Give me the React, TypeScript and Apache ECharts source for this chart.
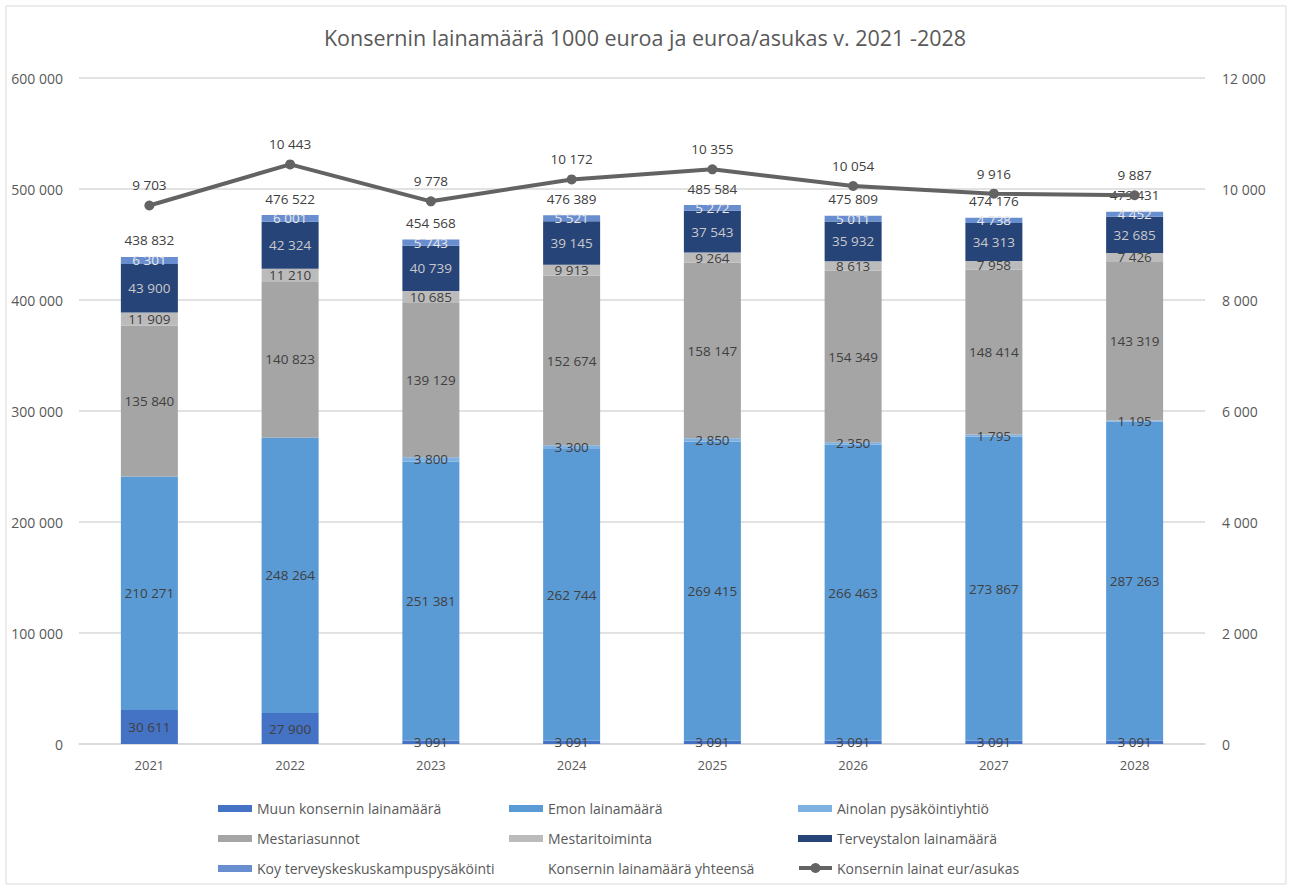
import React, { useEffect, useRef } from "react";
import * as echarts from "echarts";

const years = ["2021", "2022", "2023", "2024", "2025", "2026", "2027", "2028"];
const muunKonserni = [30611, 27900, 3091, 3091, 3091, 3091, 3091, 3091];
const emon = [210271, 248264, 251381, 262744, 269415, 266463, 273867, 287263];
const ainolan = [0, 0, 3800, 3300, 2850, 2350, 1795, 1195];
const mestariasunnot = [135840, 140823, 139129, 152674, 158147, 154349, 148414, 143319];
const mestaritoiminta = [11909, 11210, 10685, 9913, 9264, 8613, 7958, 7426];
const terveystalo = [43900, 42324, 40739, 39145, 37543, 35932, 34313, 32685];
const koy = [6301, 6001, 5743, 5521, 5272, 5011, 4738, 4452];
const yhteensa = [438832, 476522, 454568, 476389, 485584, 475809, 474176, 479431];
const eurAsukas = [9703, 10443, 9778, 10172, 10355, 10054, 9916, 9887];

const leftTicks = { min: 0, max: 600000, interval: 100000 };
const rightTicks = { min: 0, max: 12000, interval: 2000 };

const FONT = "'Open Sans', 'Noto Sans', sans-serif";
const TXT = "#595959";

const fmt = (v: number) =>
  Math.round(v).toString().replace(/\B(?=(\d{3})+(?!\d))/g, " ");

export default function App() {
  const ref = useRef<HTMLDivElement>(null);
  useEffect(() => {
    if (!ref.current) return;
    const chart = echarts.init(ref.current, null, { renderer: "svg" });

    const barSeries = (
      name: string,
      data: number[],
      color: string,
      labelColor: string
    ) => ({
      name,
      type: "bar",
      stack: "total",
      data,
      barWidth: 57,
      itemStyle: { color },
      label: {
        show: true,
        position: "inside",
        color: labelColor,
        fontFamily: FONT,
        fontSize: 13.5,
        formatter: (p: any) => (p.value ? fmt(p.value) : ""),
      },
      emphasis: { disabled: true },
    });

    const legendCommon = {
      orient: "vertical",
      top: 800,
      padding: 0,
      itemWidth: 34,
      itemHeight: 7,
      itemGap: 13,
      icon: "rect",
      selectedMode: false,
      textStyle: { color: TXT, fontFamily: FONT, fontSize: 14, lineHeight: 17 },
    };

    chart.setOption({
      animation: false,
      backgroundColor: "#ffffff",
      title: {
        text: "Konsernin lainamäärä 1000 euroa ja euroa/asukas v. 2021 -2028",
        left: "center",
        top: 21,
        textStyle: { color: TXT, fontFamily: FONT, fontSize: 21.5, fontWeight: "normal" },
      },
      grid: { left: 79, right: 85, top: 78, bottom: 144, containLabel: false },
      legend: [
        {
          ...legendCommon,
          left: 218,
          data: ["Muun konsernin lainamäärä", "Mestariasunnot", "Koy terveyskeskuskampuspysäköinti"],
        },
        {
          ...legendCommon,
          left: 509,
          data: [
            "Emon lainamäärä",
            "Mestaritoiminta",
            { name: "Konsernin lainamäärä yhteensä", itemStyle: { color: "rgba(0,0,0,0)" } },
          ],
        },
        {
          ...legendCommon,
          left: 798,
          data: [
            "Ainolan pysäköintiyhtiö",
            "Terveystalon lainamäärä",
            { name: "Konsernin lainat eur/asukas", icon: "none" },
          ],
        },
      ],
      graphic: [
        {
          type: "rect",
          shape: { x: 6, y: 6, width: 1280, height: 878 },
          style: { fill: "none", stroke: "#D9D9D9", lineWidth: 1 },
          silent: true,
        },
        {
          type: "line",
          shape: { x1: 799, y1: 868, x2: 832, y2: 868 },
          style: { stroke: "#636363", lineWidth: 4 },
          silent: true,
        },
        {
          type: "circle",
          shape: { cx: 815.5, cy: 868, r: 5 },
          style: { fill: "#636363" },
          silent: true,
        },
      ],
      xAxis: {
        type: "category",
        data: years,
        axisLine: { lineStyle: { color: "#D9D9D9", width: 1.5 } },
        axisTick: { show: false },
        axisLabel: { color: TXT, fontFamily: FONT, fontSize: 13, margin: 14 },
      },
      yAxis: [
        {
          type: "value",
          ...leftTicks,
          axisLine: { show: false },
          axisTick: { show: false },
          splitLine: { lineStyle: { color: "#D9D9D9", width: 1.5 } },
          axisLabel: { color: TXT, fontFamily: FONT, fontSize: 14, margin: 16, formatter: fmt },
        },
        {
          type: "value",
          ...rightTicks,
          position: "right",
          axisLine: { show: false },
          axisTick: { show: false },
          splitLine: { show: false },
          axisLabel: { color: TXT, fontFamily: FONT, fontSize: 14, margin: 17, formatter: fmt },
        },
      ],
      series: [
        barSeries("Muun konsernin lainamäärä", muunKonserni, "#4472C4", "#404040"),
        barSeries("Emon lainamäärä", emon, "#5B9BD5", "#404040"),
        barSeries("Ainolan pysäköintiyhtiö", ainolan, "#7EB1E2", "#404040"),
        barSeries("Mestariasunnot", mestariasunnot, "#A5A5A5", "#404040"),
        barSeries("Mestaritoiminta", mestaritoiminta, "#BBBBBB", "#404040"),
        barSeries("Terveystalon lainamäärä", terveystalo, "#264478", "#C9C9C9"),
        barSeries("Koy terveyskeskuskampuspysäköinti", koy, "#698ED0", "#E8E8E8"),
        {
          name: "Konsernin lainamäärä yhteensä",
          type: "line",
          yAxisIndex: 0,
          data: yhteensa,
          symbol: "circle",
          symbolSize: 1,
          itemStyle: { color: "rgba(0,0,0,0)" },
          lineStyle: { width: 0, opacity: 0, color: "rgba(0,0,0,0)" },
          label: {
            show: true,
            position: "top",
            distance: 9,
            color: "#404040",
            fontFamily: FONT,
            fontSize: 13.5,
            formatter: (p: any) => fmt(p.value),
          },
          z: 5,
          emphasis: { disabled: true },
        },
        {
          name: "Konsernin lainat eur/asukas",
          type: "line",
          yAxisIndex: 1,
          data: eurAsukas,
          symbol: "circle",
          symbolSize: 10,
          itemStyle: { color: "#636363" },
          lineStyle: { color: "#636363", width: 4 },
          label: {
            show: true,
            position: "top",
            distance: 8,
            color: "#404040",
            fontFamily: FONT,
            fontSize: 13.5,
            formatter: (p: any) => fmt(p.value),
          },
          z: 6,
          emphasis: { disabled: true },
        },
      ],
    });
    return () => chart.dispose();
  }, []);
  return (
    <div
      ref={ref}
      style={{ position: "absolute", left: 0, top: 0, width: 1290, height: 888 }}
    />
  );
}
